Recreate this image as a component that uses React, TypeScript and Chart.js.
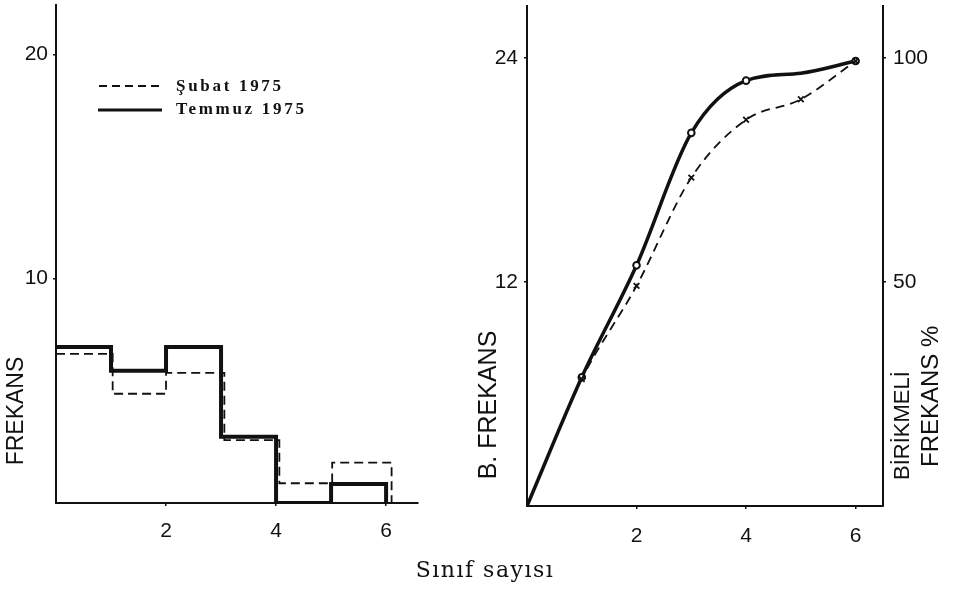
import React, { useEffect, useRef } from 'react';
import { Chart, registerables } from 'chart.js';

Chart.register(...registerables);

// ---------- Data ----------
// Left panel: frequency histogram (class boundaries and frequencies)
const temmuzEdges = [0, 1, 2, 3, 4, 5, 6];
const temmuzFreq = [6.95, 5.9, 6.95, 2.95, 0, 0.85];
const subatEdges = [0, 1.03, 2.0, 3.06, 4.06, 5.02, 6.1];
const subatFreq = [6.65, 4.87, 5.8, 2.8, 0.88, 1.8];

// Right panel: cumulative frequency
const temmuzCumX = [0, 1, 2, 3, 4, 5, 6];
const temmuzCum = [0, 6.9, 12.9, 20.0, 22.8, 23.2, 23.85];
const temmuzMarked = [false, true, true, true, true, false, true];
const subatCumX = [0, 1, 2, 3, 4, 5, 6];
const subatCum = [0, 6.8, 11.8, 17.6, 20.7, 21.8, 23.85];
const subatMarked = [false, true, true, true, true, true, true];

// Tick labels
const leftYTicks = [10, 20];
const leftXTicks = [2, 4, 6];
const rightYTicks = [12, 24];
const rightPctTicks = [50, 100];
const rightXTicks = [2, 4, 6];

const seriesNames = ['Şubat 1975', 'Temmuz 1975'];
const xTitle = 'Sınıf sayısı';
const leftYTitle = 'FREKANS';
const rightYTitle = 'B. FREKANS';
const rightY2Title1 = 'BİRİKMELİ';
const rightY2Title2 = 'FREKANS %';

const INK = '#111';
const SANS = '"Liberation Sans", Arial, sans-serif';

function stepPoints(edges: number[], vals: number[]) {
  const pts = vals.map((v, i) => ({ x: edges[i], y: v }));
  pts.push({ x: edges[edges.length - 1], y: 0 });
  return pts;
}

function fixedTicks(values: number[]) {
  return (scale: any) => {
    scale.ticks = values.map((v) => ({ value: v }));
  };
}

function sizer(prop: 'width' | 'height', value: number) {
  return (s: any) => {
    s[prop] = value;
    s.paddingTop = 0;
    s.paddingBottom = 0;
    s.paddingLeft = 0;
    s.paddingRight = 0;
  };
}

function axisCommon(tickValues: number[], min: number, max: number, size: (s: any) => void, padding: number, position: string) {
  return {
    type: 'linear',
    position,
    min,
    max,
    afterBuildTicks: fixedTicks(tickValues),
    afterFit: size,
    grid: { display: true, drawOnChartArea: false, drawTicks: true, tickLength: 3, color: INK, lineWidth: 1.5 },
    border: { display: true, color: INK, width: 2 },
    ticks: {
      color: INK,
      font: { family: SANS, size: 21 },
      padding,
      maxRotation: 0,
      autoSkip: false,
    },
  };
}

const leftTextPlugin = {
  id: 'leftText',
  afterDraw(chart: any) {
    const ctx = chart.ctx;
    ctx.save();
    ctx.fillStyle = INK;
    ctx.font = `23px ${SANS}`;
    ctx.translate(17, 411);
    ctx.rotate(-Math.PI / 2);
    ctx.textAlign = 'center';
    ctx.textBaseline = 'middle';
    ctx.fillText(leftYTitle, 0, 0);
    ctx.restore();

    // legend
    ctx.save();
    ctx.strokeStyle = INK;
    ctx.lineWidth = 2;
    ctx.setLineDash([8, 5]);
    ctx.beginPath();
    ctx.moveTo(99, 86);
    ctx.lineTo(162, 86);
    ctx.stroke();
    ctx.setLineDash([]);
    ctx.lineWidth = 3;
    ctx.beginPath();
    ctx.moveTo(98, 110);
    ctx.lineTo(162, 110);
    ctx.stroke();
    ctx.fillStyle = INK;
    ctx.font = 'bold 17px "Liberation Serif", serif';
    (ctx as any).letterSpacing = '2.7px';
    ctx.textAlign = 'left';
    ctx.textBaseline = 'alphabetic';
    ctx.fillText(chart.data.datasets[0].label, 176, 91);
    ctx.fillText(chart.data.datasets[1].label, 176, 114);
    ctx.restore();
  },
};

const rightTextPlugin = {
  id: 'rightText',
  afterDraw(chart: any) {
    const ctx = chart.ctx;
    ctx.save();
    ctx.fillStyle = INK;
    ctx.font = `25px ${SANS}`;
    ctx.translate(49, 405);
    ctx.rotate(-Math.PI / 2);
    ctx.textAlign = 'center';
    ctx.textBaseline = 'middle';
    ctx.fillText(rightYTitle, 0, 0);
    ctx.restore();

    ctx.save();
    ctx.fillStyle = INK;
    ctx.font = `22px ${SANS}`;
    ctx.translate(463, 480);
    ctx.rotate(-Math.PI / 2);
    ctx.textAlign = 'left';
    ctx.textBaseline = 'middle';
    ctx.fillText(rightY2Title1, 0, 0);
    ctx.restore();

    ctx.save();
    ctx.fillStyle = INK;
    ctx.font = `24px ${SANS}`;
    ctx.translate(491, 467);
    ctx.rotate(-Math.PI / 2);
    ctx.textAlign = 'left';
    ctx.textBaseline = 'middle';
    ctx.fillText(rightY2Title2, 0, 0);
    ctx.restore();
  },
};

export default function App() {
  const leftRef = useRef<HTMLCanvasElement | null>(null);
  const rightRef = useRef<HTMLCanvasElement | null>(null);

  useEffect(() => {
    const left = new Chart(leftRef.current as HTMLCanvasElement, {
      type: 'line',
      data: {
        datasets: [
          {
            label: seriesNames[0],
            data: stepPoints(subatEdges, subatFreq),
            borderColor: INK,
            borderWidth: 1.8,
            borderDash: [9, 5],
            stepped: true,
            pointRadius: 0,
            fill: false,
          },
          {
            label: seriesNames[1],
            data: stepPoints(temmuzEdges, temmuzFreq),
            borderColor: INK,
            borderWidth: 4,
            stepped: true,
            pointRadius: 0,
            fill: false,
          },
        ],
      },
      options: {
        animation: false,
        responsive: false,
        events: [],
        layout: { padding: { left: 0, right: 22, top: 5, bottom: 0 } },
        plugins: { legend: { display: false }, tooltip: { enabled: false } },
        scales: {
          x: axisCommon(leftXTicks, 0, 6.58, sizer('height', 89), 13, 'bottom'),
          y: axisCommon(leftYTicks, 0, 22.2, sizer('width', 56), 5, 'left'),
        },
      } as any,
      plugins: [leftTextPlugin],
    } as any);

    const right = new Chart(rightRef.current as HTMLCanvasElement, {
      type: 'line',
      data: {
        datasets: [
          {
            label: seriesNames[0],
            data: subatCumX.map((x, i) => ({ x, y: subatCum[i] })),
            borderColor: INK,
            borderWidth: 1.8,
            borderDash: [9, 6],
            cubicInterpolationMode: 'monotone',
            pointStyle: 'crossRot',
            pointRadius: (c: any) => (subatMarked[c.dataIndex] ? 4 : 0),
            pointBorderWidth: 1.8,
            pointBorderColor: INK,
            fill: false,
            yAxisID: 'y',
          },
          {
            label: seriesNames[1],
            data: temmuzCumX.map((x, i) => ({ x, y: temmuzCum[i] })),
            borderColor: INK,
            borderWidth: 3.5,
            cubicInterpolationMode: 'monotone',
            pointStyle: 'circle',
            pointRadius: (c: any) => (temmuzMarked[c.dataIndex] ? 3.3 : 0),
            pointBorderWidth: 2,
            pointBorderColor: INK,
            pointBackgroundColor: '#fff',
            fill: false,
            yAxisID: 'y',
          },
        ],
      },
      options: {
        animation: false,
        responsive: false,
        events: [],
        layout: { padding: { left: 0, right: 0, top: 5, bottom: 0 } },
        plugins: { legend: { display: false }, tooltip: { enabled: false } },
        scales: {
          x: axisCommon(rightXTicks, 0, 6.5, sizer('height', 86), 15, 'bottom'),
          y: axisCommon(rightYTicks, 0, 26.8, sizer('width', 87), 6, 'left'),
          y2: axisCommon(rightPctTicks, 0, 111.6, sizer('width', 73), 7, 'right'),
        },
      } as any,
      plugins: [rightTextPlugin],
    } as any);

    return () => {
      left.destroy();
      right.destroy();
    };
  }, []);

  return (
    <div
      style={{
        position: 'fixed',
        left: 0,
        top: 0,
        width: 956,
        height: 592,
        background: '#fff',
        overflow: 'hidden',
      }}
    >
      <canvas
        ref={leftRef}
        width={440}
        height={592}
        style={{ position: 'absolute', left: 0, top: 0, width: 440, height: 592 }}
      />
      <canvas
        ref={rightRef}
        width={516}
        height={592}
        style={{ position: 'absolute', left: 440, top: 0, width: 516, height: 592 }}
      />
      <div
        style={{
          position: 'absolute',
          left: 385,
          top: 559,
          width: 200,
          textAlign: 'center',
          fontFamily: '"DejaVu Serif", serif',
          fontSize: 22,
          lineHeight: '22px',
          letterSpacing: 1.5,
          color: INK,
          whiteSpace: 'nowrap',
        }}
      >
        {xTitle}
      </div>
    </div>
  );
}
